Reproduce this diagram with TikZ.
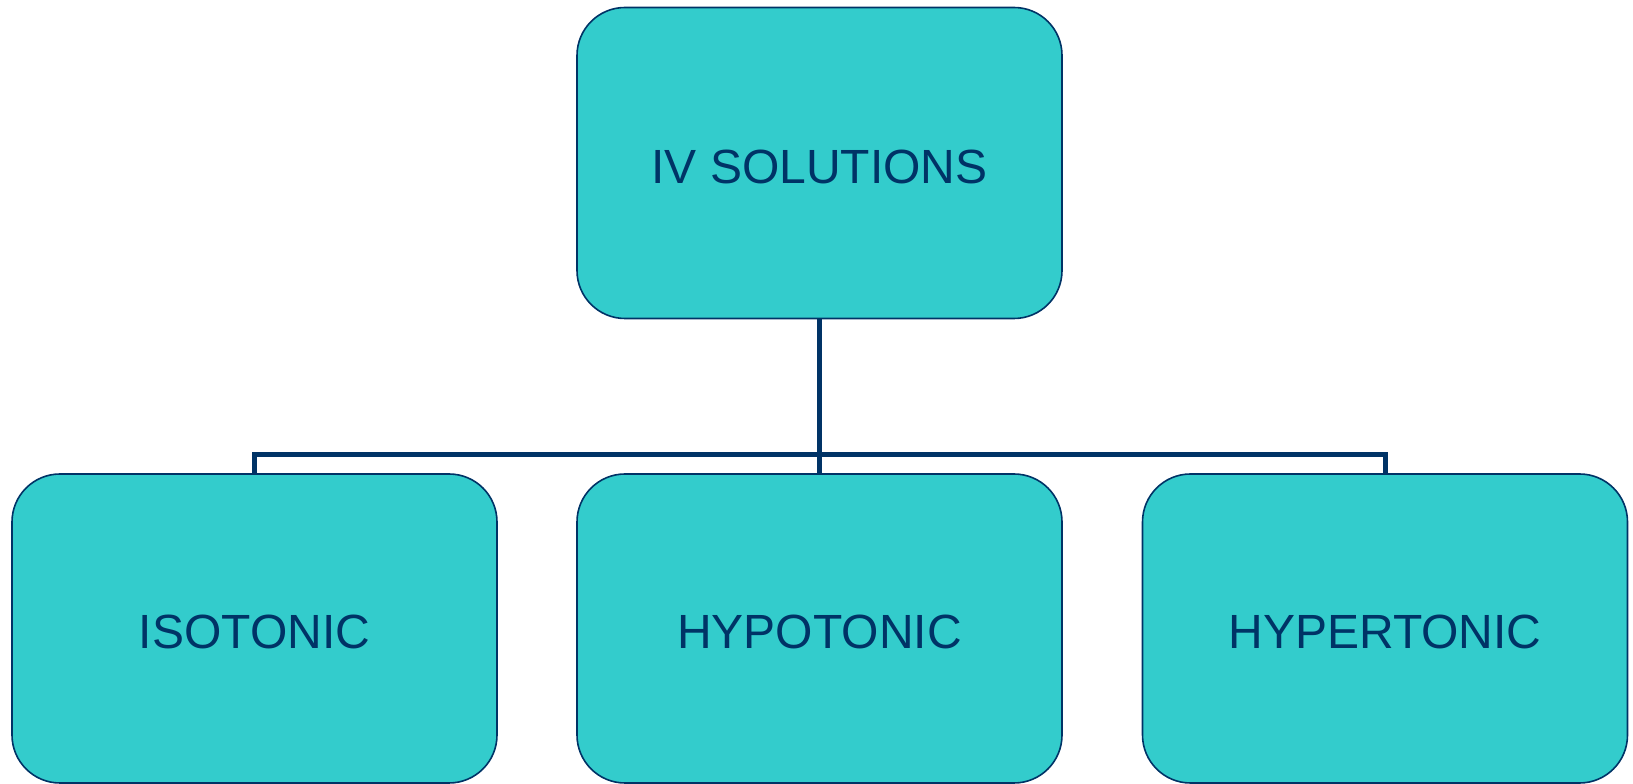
\documentclass[tikz,border=0pt]{standalone}
\usepackage{fontspec}
\setmainfont{Liberation Sans}
\definecolor{boxfill}{HTML}{33CCCC}
\definecolor{navy}{HTML}{003366}
\begin{document}
\begin{tikzpicture}[x=1pt,y=1pt,
  box/.style={draw=navy, line width=1.6pt, fill=boxfill, rounded corners=48pt,
    minimum width=485pt, inner sep=0pt, text=navy, text height=40.5pt, text depth=0pt,
    font=\fontsize{48}{58}\selectfont},
  conn/.style={draw=navy, line width=5pt}]
\useasboundingbox (0,0) rectangle (1633,784);
\node[box, minimum height=311pt] (top) at (819.5,621) {IV SOLUTIONS};
\node[box, minimum height=309pt] (iso) at (254.5,155.5) {ISOTONIC};
\node[box, minimum height=309pt] (hypo) at (819.5,155.5) {HYPOTONIC};
\node[box, minimum height=309pt] (hyper) at (1385,155.5) {HYPERTONIC};
\coordinate (busL) at (254.5,329.5);
\coordinate (busR) at (1385,329.5);
\draw[conn] (top.south) -- (hypo.north);
\draw[conn] (iso.north) -- (busL) -- (busR) -- (hyper.north);
\end{tikzpicture}
\end{document}
